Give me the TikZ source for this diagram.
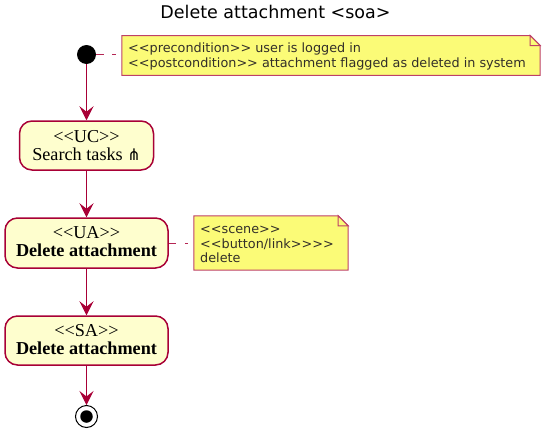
\documentclass[tikz,border=0pt]{standalone}
\usepackage{fontspec}
\setmainfont{Liberation Serif}
\newfontfamily\djv{DejaVu Sans}
\usetikzlibrary{arrows.meta,calc}
\definecolor{umlred}{HTML}{A80036}
\definecolor{actfill}{HTML}{FEFECE}
\definecolor{notefill}{HTML}{FBFB77}
\tikzset{
  act/.style={draw=umlred,fill=actfill,line width=1.5pt,rounded corners=12.5pt,align=center,font=\fontsize{18.2}{18}\selectfont,inner sep=0pt},
  flow/.style={draw=umlred,line width=1.1pt,-{Stealth[length=14pt,width=14pt,inset=5.5pt]}},
  link/.style={draw=umlred!85!white,line width=1pt,dash pattern=on 7.5pt off 8.5pt on 4pt off 100pt,shorten >=6pt},
  notebox/.style={draw=none,align=left,font=\djv\fontsize{12.8}{14.8}\selectfont,text=black!85!olive,inner sep=0pt},
  noteline/.style={draw=umlred!75!white,line width=1pt,fill=notefill},
  foldline/.style={draw=umlred!75!white,line width=1pt,fill=notefill},
}
\begin{document}
\begin{tikzpicture}[x=1pt,y=-1pt]
\useasboundingbox (0,0) rectangle (551,434);
\node[font=\djv\fontsize{17.5}{20}\selectfont] (title) at (275.5,11.5) {Delete attachment <soa>};
\node[circle,fill=black,minimum size=19pt,inner sep=0pt] (start) at (86.5,54.5) {};
\node[act,minimum width=134pt,minimum height=49pt] (uc) at (86.5,145.5) {<{}<UC>{}>\\Search tasks {\djv\fontsize{16}{15}\selectfont ⋔}};
\node[act,minimum width=163pt,minimum height=50pt,text depth=3pt] (ua) at (86.5,243) {<{}<UA>{}>\\\textbf{Delete attachment}};
\node[act,minimum width=163pt,minimum height=49pt,text depth=3pt] (sa) at (86.5,340.5) {<{}<SA>{}>\\\textbf{Delete attachment}};
\node[circle,draw=black,fill=white,line width=1pt,minimum size=22pt,inner sep=0pt] (stop) at (86.5,416.5) {};
\node[circle,fill=black,minimum size=12.5pt,inner sep=0pt] (stopdot) at (86.5,416.5) {};
\node[minimum width=418pt,minimum height=39.5pt,inner sep=0pt] (noteA) at (331,55.5) {};
\node[minimum width=154pt,minimum height=54pt,inner sep=0pt] (noteB) at (271,243) {};
\draw[noteline] (noteA.north west) -- ($(noteA.north east)+(-10,0)$) -- ($(noteA.north east)+(0,10)$) -- (noteA.south east) -- (noteA.south west) -- cycle;
\draw[foldline] ($(noteA.north east)+(-10,0)$) -- ($(noteA.north east)+(-10,10)$) -- ($(noteA.north east)+(0,10)$) -- cycle;
\draw[noteline] (noteB.north west) -- ($(noteB.north east)+(-10,0)$) -- ($(noteB.north east)+(0,10)$) -- (noteB.south east) -- (noteB.south west) -- cycle;
\draw[foldline] ($(noteB.north east)+(-10,0)$) -- ($(noteB.north east)+(-10,10)$) -- ($(noteB.north east)+(0,10)$) -- cycle;
\node[notebox,anchor=west] (textA) at (128,56.5) {<{}<precondition>{}> user is logged in\\<{}<postcondition>{}> attachment flagged as deleted in system};
\node[notebox,anchor=west] (textB) at (200,244.5) {<{}<scene>{}>\\<{}<button/link>{}>{}>{}>\\delete};
\draw[flow] (start) -- (uc);
\draw[flow] (uc) -- (ua);
\draw[flow] (ua) -- (sa);
\draw[flow] (sa) -- (stop);
\draw[link] (start.east) -- (start.east -| noteA.west);
\draw[link] (ua.east) -- (ua.east -| noteB.west);
\end{tikzpicture}
\end{document}
